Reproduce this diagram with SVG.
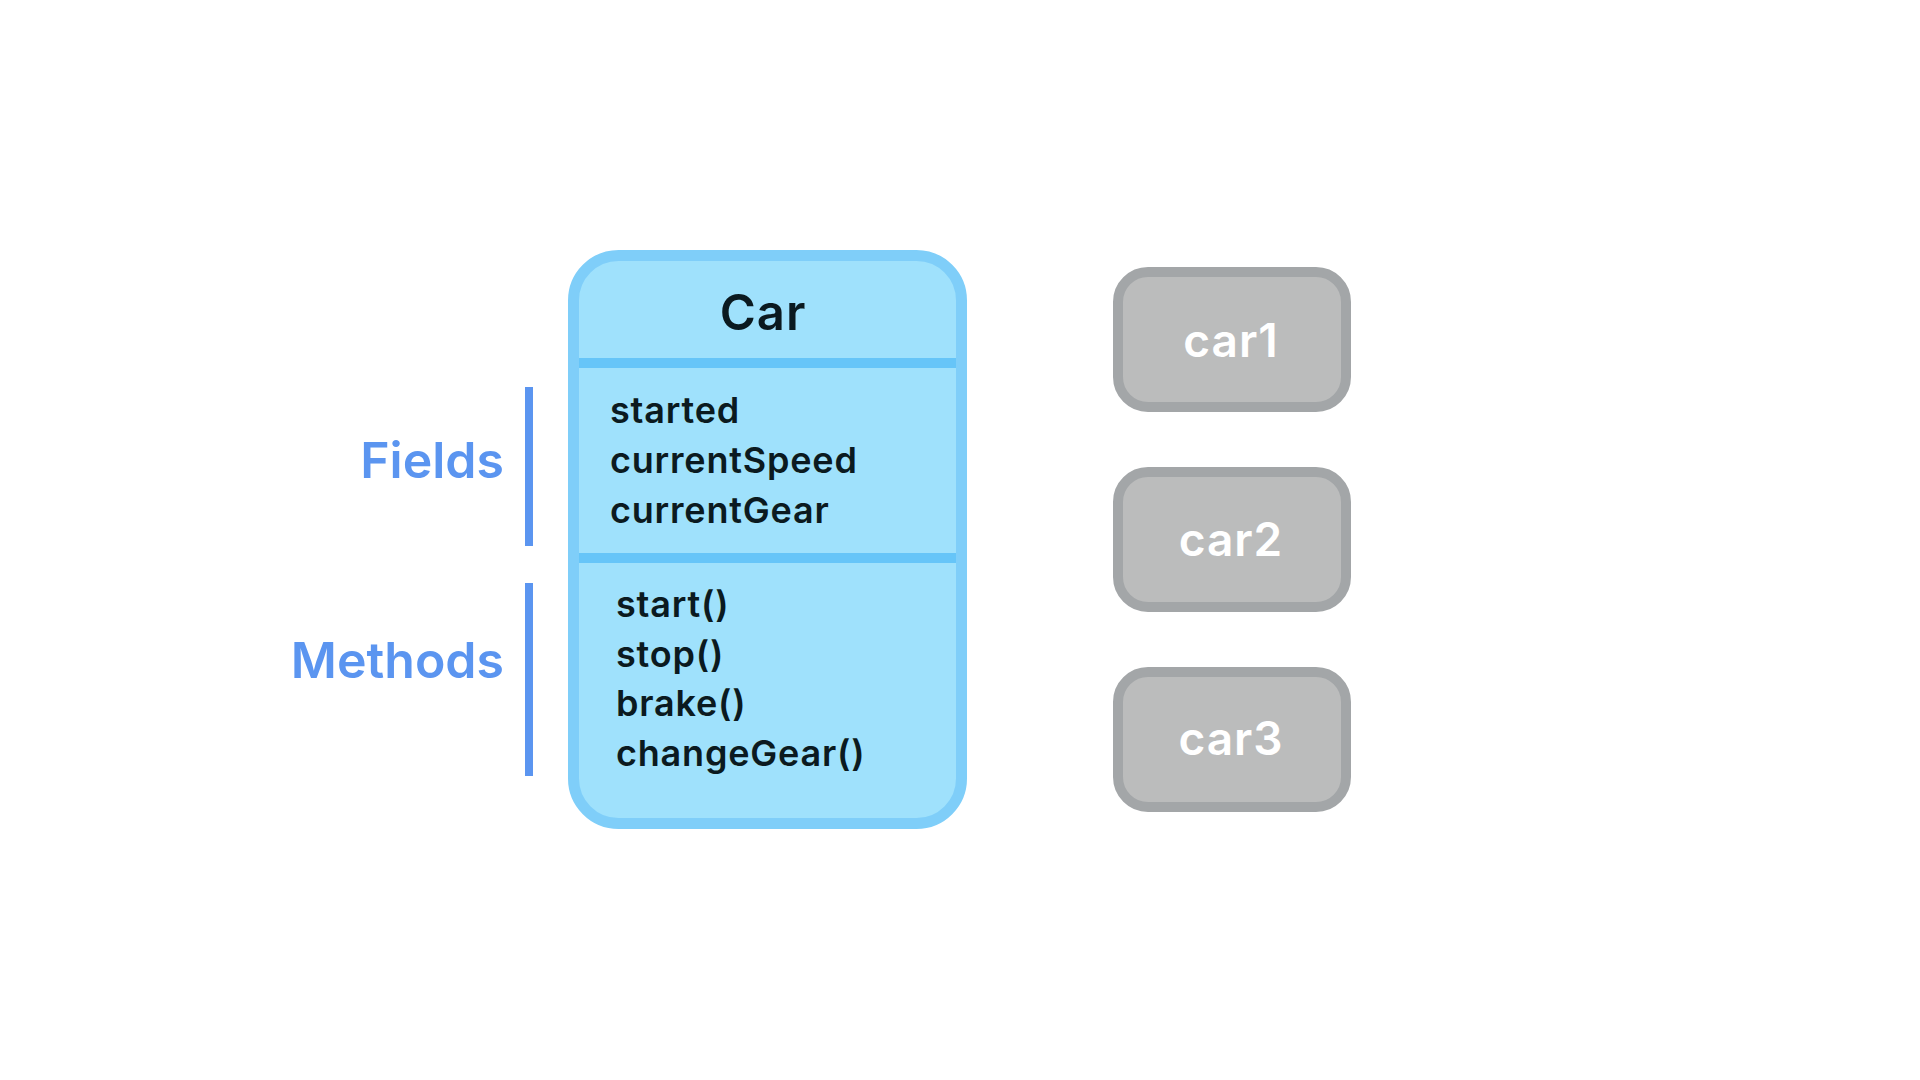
<svg xmlns="http://www.w3.org/2000/svg" width="1920" height="1080" viewBox="0 0 1920 1080">
<style>
.t{font-family:Inter,"Open Sans","Liberation Sans",sans-serif;font-weight:600}
.cls{fill:#9FE1FC;stroke:#7FCEF9;stroke-width:11}
.div{fill:#66C5F8}
.mem{font-size:36px;fill:#0B1A20;letter-spacing:0.8px}
.lbl{font-size:50px;fill:#5B95F0}
.bar{fill:#5B95F0}
.inst rect{fill:#BBBCBC;stroke:#A3A6A8;stroke-width:10}
.inst text{font-size:46px;fill:#FFFFFF;text-anchor:middle;letter-spacing:1px}
</style>
<rect width="1920" height="1080" fill="#FFFFFF"/>
<g id="labels">
<text class="t lbl" x="504" y="478" text-anchor="end">Fields</text>
<rect class="bar" x="525" y="387" width="8" height="159"/>
<text class="t lbl" x="504" y="678" text-anchor="end">Methods</text>
<rect class="bar" x="525" y="583" width="8" height="193"/>
</g>
<g id="car-class">
<rect class="cls" x="573.5" y="255.5" width="388" height="568" rx="45"/>
<rect class="div" x="579" y="358" width="377" height="10"/>
<rect class="div" x="579" y="553" width="377" height="10"/>
<text class="t" x="763" y="330" font-size="49" letter-spacing="1" text-anchor="middle" fill="#0B1A20">Car</text>
<text class="t mem" x="610" y="423">started</text>
<text class="t mem" x="610" y="473">currentSpeed</text>
<text class="t mem" x="610" y="523">currentGear</text>
<text class="t mem" x="616" y="617">start()</text>
<text class="t mem" x="616" y="667">stop()</text>
<text class="t mem" x="616" y="716">brake()</text>
<text class="t mem" x="616" y="766">changeGear()</text>
</g>
<g id="car1" class="inst">
<rect x="1118" y="272" width="228" height="135" rx="30"/>
<text class="t" x="1231" y="357">car1</text>
</g>
<g id="car2" class="inst">
<rect x="1118" y="472" width="228" height="135" rx="30"/>
<text class="t" x="1231" y="556">car2</text>
</g>
<g id="car3" class="inst">
<rect x="1118" y="672" width="228" height="135" rx="30"/>
<text class="t" x="1231" y="755">car3</text>
</g>
<g id="connectors"></g>
</svg>
